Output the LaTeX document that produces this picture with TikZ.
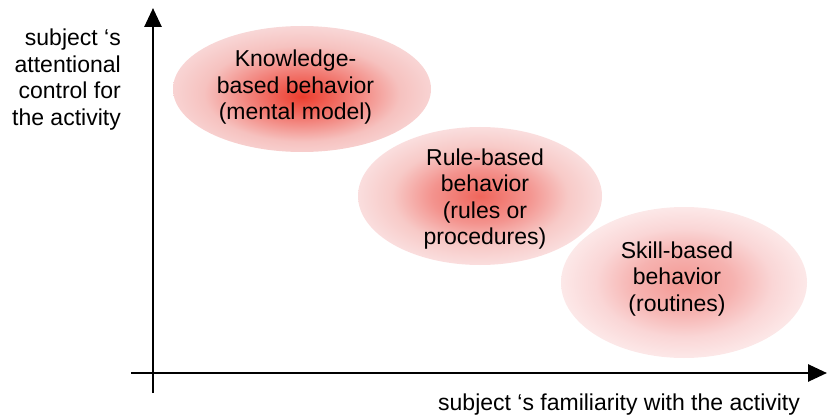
\documentclass[tikz,border=0pt]{standalone}
\usepackage{fontspec}
\setmainfont{Liberation Sans}
\usetikzlibrary{arrows.meta,shapes.geometric}
\pgfdeclareradialshading{shadeA}{\pgfpoint{0bp}{-3bp}}{rgb(0bp)=(0.93,0.24,0.18); rgb(10bp)=(0.95,0.50,0.47); rgb(19bp)=(0.965,0.76,0.75); rgb(27bp)=(0.975,0.85,0.85); rgb(50bp)=(0.975,0.85,0.85)}
\pgfdeclareradialshading{shadeB}{\pgfpoint{0bp}{0bp}}{rgb(0bp)=(0.94,0.40,0.36); rgb(10bp)=(0.955,0.58,0.56); rgb(18bp)=(0.97,0.79,0.78); rgb(25bp)=(0.98,0.87,0.87); rgb(50bp)=(0.98,0.87,0.87)}
\pgfdeclareradialshading{shadeC}{\pgfpoint{0bp}{0bp}}{rgb(0bp)=(0.955,0.60,0.58); rgb(10bp)=(0.965,0.70,0.69); rgb(18bp)=(0.98,0.84,0.84); rgb(25bp)=(0.99,0.91,0.91); rgb(50bp)=(0.99,0.91,0.91)}
\begin{document}
\begin{tikzpicture}[x=1pt,y=-1pt,
  blob/.style={ellipse, draw=none, inner sep=0pt},
  lbl/.style={font=\fontsize{23}{26.5}\selectfont, inner sep=0pt, align=center},
  axis/.style={line width=2.7pt, -{Triangle[length=19pt,width=17pt]}}]
\useasboundingbox (0,0) rectangle (827,417);
% ellipses
\node[blob, shading=shadeA, minimum width=258pt, minimum height=126pt] (k) at (302,89) {};
\node[blob, shading=shadeB, minimum width=244pt, minimum height=138pt] (r) at (480,196) {};
\node[blob, shading=shadeC, minimum width=246pt, minimum height=151pt] (s) at (684,282.5) {};
% texts (base anchor = baseline of last line)
\node[lbl, anchor=base] (kt) at (295.5,120) {Knowledge-\\based behavior\\(mental model)};
\node[lbl, anchor=base] (rt) at (485,244.5) {Rule-based\\behavior\\(rules or\\procedures)};
\node[lbl, anchor=base] (st) at (677,311) {Skill-based\\behavior\\(routines)};
% axes
\coordinate (ybot) at (153,393);
\coordinate (ytip) at (153,8);
\coordinate (xleft) at (131,373);
\coordinate (xtip) at (827,373);
\draw[axis] (ybot) -- (ytip);
\draw[axis] (xleft) -- (xtip);
% axis labels
\node[lbl, align=right, anchor=base east] (ylab) at (121,125) {subject `s\\attentional\\control for\\the activity};
\node[lbl, anchor=base west] (xlab) at (438,410) {subject `s familiarity with the activity};
\end{tikzpicture}
\end{document}
